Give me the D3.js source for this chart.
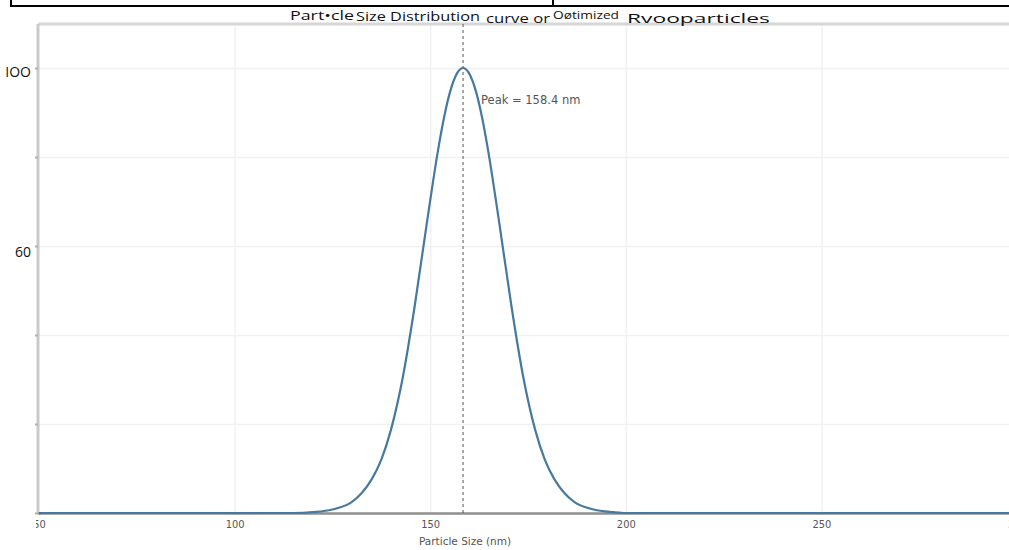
<!DOCTYPE html>
<html>
<head>
<meta charset="utf-8">
<script src="https://cdn.jsdelivr.net/npm/d3@7"></script>
<style>
  body { margin: 0; background: #fff; overflow: hidden; }
  svg { display: block; }
</style>
</head>
<body>
<script>
// values
const sizes = [50, 100, 110, 115, 120, 125, 130, 132.5, 135, 137.5, 140, 143, 146, 149, 152, 153.5, 155, 157, 158.4,
    159.8, 161.8, 163.3, 164.8, 167.8, 170.8, 173.8, 176.8, 179.3, 181.8, 184.3, 186.8, 191.8, 196.8, 200, 210, 250, 300];
const intensity = [0, 0, 0, 0, 0.2, 0.8, 2.5, 4.5, 7.5, 12, 18.8, 30.5, 46.3, 64.3, 81.5, 88.7, 94.4, 99.0, 100,
    99.0, 94.4, 88.7, 81.5, 64.3, 46.3, 30.5, 18.8, 12, 7.5, 4.5, 2.5, 0.8, 0.2, 0, 0, 0, 0];
const xTicks = [50, 100, 150, 200, 250, 300];
const yTicks = [0, 20, 40, 60, 80, 100];
const yLabels = { 100: "IOO", 60: "60" };
const peakSize = 158.4;
const peakLabel = "Peak = 158.4 nm";
const xTitle = "Particle Size (nm)";
// the title came out of OCR in pieces
const titleParts = ["Part•cle", "Size Distribution", "curve or", "Oøtimized", "Rvooparticles"];

const W = 1009, H = 550;
const plotTop = 24, plotBottom = 513, plotLeft = 38, plotRight = 1040;

const svg = d3.select("body").append("svg")
    .attr("width", W)
    .attr("height", H);

// table rule left over at the top of the page
svg.append("path")
    .attr("d", `M11,0 V6 H1009 M553,0 V6`)
    .attr("fill", "none")
    .attr("stroke", "#000")
    .attr("stroke-width", 2);

const x = d3.scaleLinear().domain([50, 300]).range([39, 1017]);
const y = d3.scaleLinear().domain([0, 100]).range([plotBottom, 68]);

// clip in the x-axis group's own coordinates, hides the left half of "50"
svg.append("defs").append("clipPath").attr("id", "xclip")
    .append("rect").attr("x", 36).attr("y", -2).attr("width", W).attr("height", 40);

// grid
svg.append("g")
    .attr("transform", `translate(0,${plotBottom})`)
    .call(d3.axisBottom(x).tickValues(xTicks.slice(1, -1)).tickSize(-(plotBottom - plotTop)).tickFormat(""))
    .call(g => g.select(".domain").remove())
    .call(g => g.selectAll("line").attr("stroke", "#f1f1f1").attr("stroke-width", 1.5));

svg.append("g")
    .attr("transform", `translate(${plotLeft},0)`)
    .call(d3.axisLeft(y).tickValues(yTicks.slice(1)).tickSize(-(plotRight - plotLeft)).tickFormat(""))
    .call(g => g.select(".domain").remove())
    .call(g => g.selectAll("line").attr("stroke", "#f1f1f1").attr("stroke-width", 1.5));

// frame
svg.append("line")
    .attr("x1", plotLeft).attr("x2", W)
    .attr("y1", plotTop).attr("y2", plotTop)
    .attr("stroke", "#d6d6d6").attr("stroke-width", 3);

svg.append("line")
    .attr("x1", plotLeft).attr("x2", plotLeft)
    .attr("y1", plotTop).attr("y2", plotBottom)
    .attr("stroke", "#cacaca").attr("stroke-width", 3);

// y axis ticks and the two labels that survived
const yAxis = svg.append("g")
    .attr("transform", `translate(${plotLeft},0)`)
    .call(d3.axisLeft(y).tickValues(yTicks).tickSize(3).tickPadding(4)
        .tickFormat(d => yLabels[d] || ""));
yAxis.select(".domain").remove();
yAxis.selectAll("line").attr("stroke", "#b0b0b0").attr("stroke-width", 2);
yAxis.selectAll("text")
    .attr("font-family", "'Open Sans', sans-serif")
    .attr("font-size", 14)
    .attr("fill", "#111")
    .attr("dy", d => d === 60 ? "0.72em" : "0.62em");

// x axis
const xAxis = svg.append("g")
    .attr("transform", `translate(0,${plotBottom})`)
    .attr("clip-path", "url(#xclip)")
    .call(d3.axisBottom(x).tickValues(xTicks).tickSize(2).tickPadding(5));
xAxis.select(".domain")
    .attr("stroke", "#8e8e8e").attr("stroke-width", 2.5);
xAxis.selectAll("line").attr("stroke", "#999");
xAxis.selectAll("text")
    .attr("font-family", "'DejaVu Sans Condensed', 'DejaVu Sans', sans-serif")
    .attr("font-size", 11)
    .attr("fill", "#555");

svg.append("text")
    .attr("x", x(peakSize) + 2)
    .attr("y", 545)
    .attr("text-anchor", "middle")
    .attr("font-family", "'DejaVu Sans', sans-serif")
    .attr("font-size", 10.5)
    .attr("fill", "#555")
    .text(xTitle);

// peak marker
svg.append("line")
    .attr("x1", x(peakSize)).attr("x2", x(peakSize))
    .attr("y1", plotTop).attr("y2", plotBottom)
    .attr("stroke", "#555")
    .attr("stroke-width", 1)
    .attr("stroke-dasharray", "3,3");

// distribution curve
const line = d3.line()
    .x((d, i) => x(sizes[i]))
    .y(d => y(d))
    .curve(d3.curveMonotoneX);

svg.append("path")
    .datum(intensity)
    .attr("d", line)
    .attr("fill", "none")
    .attr("stroke", "#46799f")
    .attr("stroke-width", 2.2);

svg.append("text")
    .attr("x", x(peakSize) + 18)
    .attr("y", y(100) + 36)
    .attr("font-family", "'DejaVu Sans', sans-serif")
    .attr("font-size", 11.5)
    .attr("fill", "#555")
    .text(peakLabel);

// title pieces, each stretched over the span it takes in the scan
const titleX = [290, 356, 486, 553, 627];
const titleW = [64, 124, 64, 66, 143];
const titleY = [20, 21, 23, 19, 23];
const titleSize = [13.5, 13.5, 13.5, 11, 13.5];

svg.append("g")
    .attr("font-family", "'Open Sans', sans-serif")
    .attr("fill", "#111")
    .selectAll("text")
    .data(titleParts)
    .join("text")
    .attr("x", (d, i) => titleX[i])
    .attr("y", (d, i) => titleY[i])
    .attr("font-size", (d, i) => titleSize[i])
    .attr("textLength", (d, i) => titleW[i])
    .attr("lengthAdjust", "spacingAndGlyphs")
    .text(d => d);
</script>
</body>
</html>
